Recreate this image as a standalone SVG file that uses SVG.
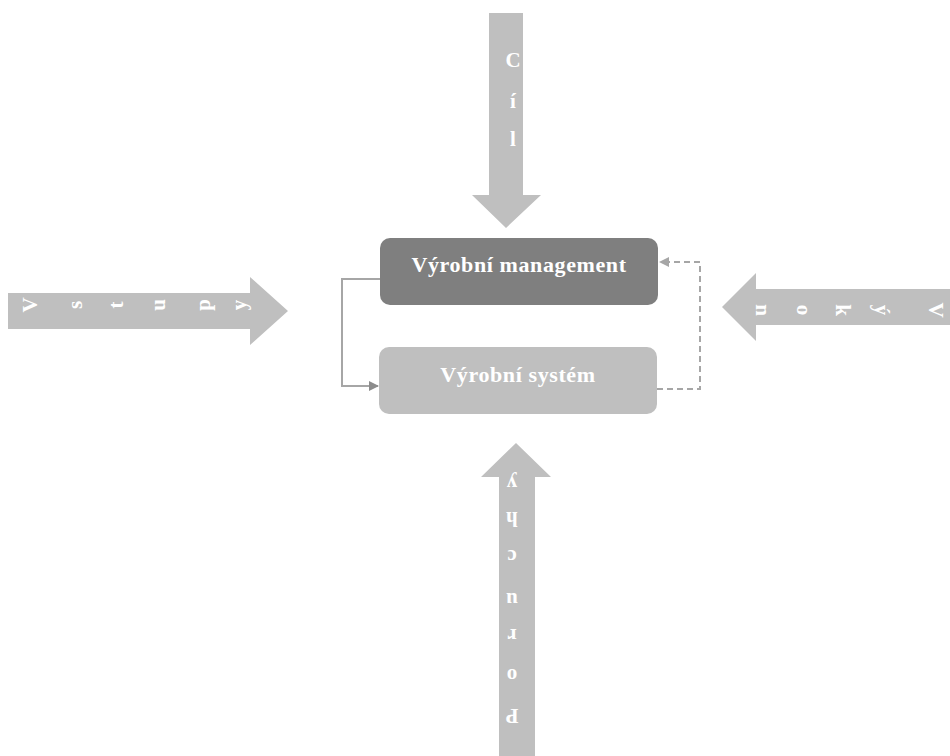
<svg xmlns="http://www.w3.org/2000/svg" width="950" height="756" viewBox="0 0 950 756">
<defs>
<style>
.big{fill:#bfbfbf;}
.lt{font-family:"Liberation Serif","Times New Roman",serif;font-weight:bold;font-size:21px;fill:#ffffff;text-anchor:middle;dominant-baseline:central;}
.bt{font-family:"Liberation Serif","Times New Roman",serif;font-weight:bold;font-size:22px;fill:#ffffff;text-anchor:middle;letter-spacing:0.6px;}
.conn{fill:none;stroke:#a6a6a6;stroke-width:2;}
</style>
<marker id="ah" viewBox="0 0 10 10" refX="9" refY="5" markerWidth="5" markerHeight="5" orient="auto" markerUnits="strokeWidth">
<path d="M0,0 L10,5 L0,10 z" fill="#8c8c8c"/>
</marker>
<marker id="ah2" viewBox="0 0 10 10" refX="9" refY="5" markerWidth="5" markerHeight="5" orient="auto" markerUnits="strokeWidth">
<path d="M0,0 L10,5 L0,10 z" fill="#a6a6a6"/>
</marker>
</defs>
<rect width="950" height="756" fill="#ffffff"/>

<g id="cil">
<polygon class="big" points="489,13 523,13 523,195 541,195 506,228 472,195 489,195"/>
<text class="lt" x="513" y="60">C</text>
<text class="lt" x="513" y="101">í</text>
<text class="lt" x="513" y="139">l</text>
</g>

<g id="vstupy">
<polygon class="big" points="8,293 250,293 250,277 288,311 250,345 250,329 8,329"/>
<text class="lt" transform="rotate(-90 30 305)" x="30" y="305">V</text>
<text class="lt" transform="rotate(-90 75 305)" x="75" y="305">s</text>
<text class="lt" transform="rotate(-90 116 305)" x="116" y="305">t</text>
<text class="lt" transform="rotate(-90 158 305)" x="158" y="305">u</text>
<text class="lt" transform="rotate(-90 203 305)" x="203" y="305">p</text>
<text class="lt" transform="rotate(-90 239 305)" x="239" y="305">y</text>
</g>

<g id="vykon">
<polygon class="big" points="950,289 756,289 756,273 722,307 756,341 756,325 950,325"/>
<text class="lt" transform="rotate(90 763 310)" x="763" y="310">n</text>
<text class="lt" transform="rotate(90 804 310)" x="804" y="310">o</text>
<text class="lt" transform="rotate(90 843 310)" x="843" y="310">k</text>
<text class="lt" transform="rotate(90 882 310)" x="882" y="310">ý</text>
<text class="lt" transform="rotate(90 936 310)" x="936" y="310">V</text>
</g>

<g id="poruchy">
<polygon class="big" points="499,756 499,477 481,477 516,443 551,477 535,477 535,756"/>
<text class="lt" transform="rotate(180 512 484)" x="512" y="484">y</text>
<text class="lt" transform="rotate(180 512 519)" x="512" y="519">h</text>
<text class="lt" transform="rotate(180 512 557)" x="512" y="557">c</text>
<text class="lt" transform="rotate(180 512 600)" x="512" y="600">u</text>
<text class="lt" transform="rotate(180 512 636)" x="512" y="636">r</text>
<text class="lt" transform="rotate(180 512 676)" x="512" y="676">o</text>
<text class="lt" transform="rotate(180 512 716)" x="512" y="716">P</text>
</g>

<g id="connectors">
<path class="conn" d="M380,279 L342,279 L342,386 L378,386" stroke="#a6a6a6" marker-end="url(#ah)"/>
<path class="conn" d="M657,389 L700,389 L700,262 L660,262" stroke-dasharray="6,4" marker-end="url(#ah2)"/>
</g>

<g id="management">
<rect x="380" y="238" width="278" height="67" rx="10" ry="10" fill="#7f7f7f"/>
<text class="bt" x="519" y="272">Výrobní management</text>
</g>

<g id="system">
<rect x="379" y="347" width="278" height="67" rx="10" ry="10" fill="#bfbfbf"/>
<text class="bt" x="518" y="382">Výrobní systém</text>
</g>
</svg>
